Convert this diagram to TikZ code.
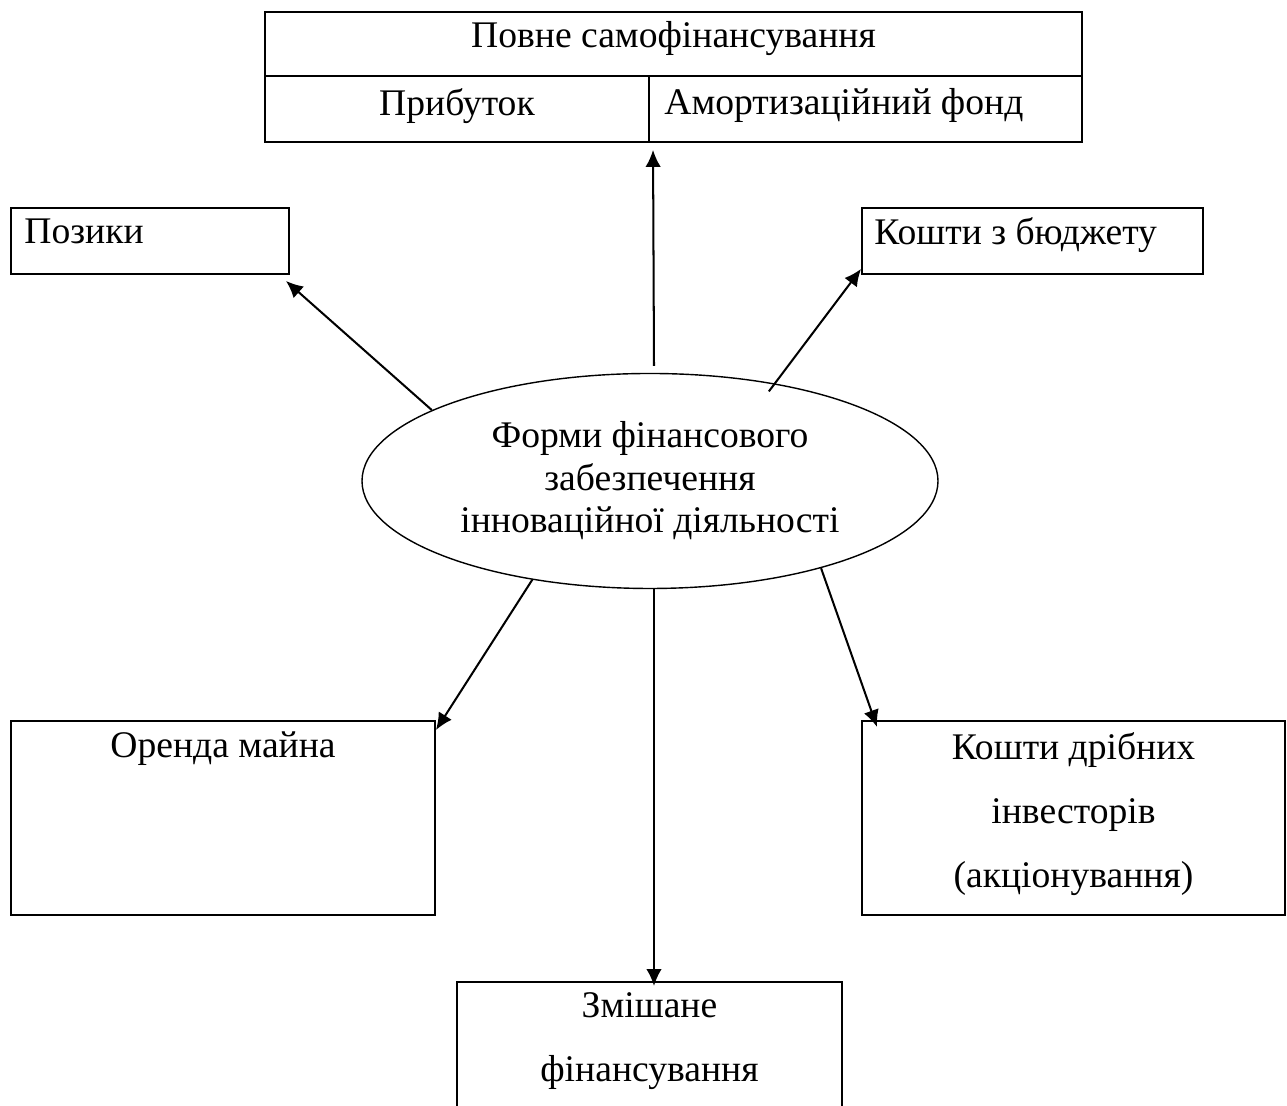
\documentclass[tikz,border=0pt]{standalone}
\usepackage{fontspec}
\setmainfont{Liberation Serif}
\usepackage{tikz}
\usetikzlibrary{shapes,arrows.meta,positioning}

\begin{document}
\begin{tikzpicture}[
    block/.style={rectangle, draw, line width=1.1pt, inner sep=0pt},
    oval/.style={ellipse, draw, line width=0.8pt, minimum width=11.52cm, minimum height=4.3cm, inner sep=0pt, align=center, font=\fontsize{21.4}{24.2}\selectfont},
    txt/.style={inner sep=0pt, align=center, font=\fontsize{21.4}{36.4}\selectfont},
    line/.style={draw, -{Latex[length=3.4mm,width=3.1mm]}, line width=1.15pt}]

    \useasboundingbox (0,0) rectangle (25.74,22.12);
    \clip (0,0) rectangle (25.74,22.12);

    % Centre
    \node [oval] (forms) at (13.0,12.50) {Форми фінансового\\забезпечення\\інноваційної діяльності};

    % Top table
    \node [block, minimum width=16.34cm, minimum height=1.28cm] (full) at (13.47,21.24) {};
    \node [block, minimum width=7.68cm, minimum height=1.32cm] (profit) at (9.14,19.94) {};
    \node [block, minimum width=8.66cm, minimum height=1.32cm] (amort) at (17.31,19.94) {};
    \node [txt, below=0.21cm of full.north] (fulltxt) {Повне самофінансування};
    \node [txt, below=0.27cm of profit.north] (profittxt) {Прибуток};
    \node [txt, below right=0.26cm and 0.32cm of amort.north west] (amorttxt) {Амортизаційний фонд};

    % Side boxes
    \node [block, minimum width=5.56cm, minimum height=1.32cm] (loans) at (3.0,17.30) {};
    \node [block, minimum width=6.82cm, minimum height=1.32cm] (budget) at (20.65,17.30) {};
    \node [txt, below right=0.23cm and 0.28cm of loans.north west] (loanstxt) {Позики};
    \node [txt, below right=0.20cm and 0.26cm of budget.north west] (budgettxt) {Кошти з бюджету};

    % Bottom boxes
    \node [block, minimum width=8.48cm, minimum height=3.88cm] (rent) at (4.46,5.76) {};
    \node [block, minimum width=8.46cm, minimum height=3.88cm] (smallinv) at (21.47,5.76) {};
    \node [block, minimum width=7.70cm, minimum height=2.78cm] (mixed) at (12.99,1.09) {};
    \node [txt, below=0.22cm of rent.north] (renttxt) {Оренда майна};
    \node [txt, below=0.25cm of smallinv.north] (smallinvtxt) {Кошти дрібних\\інвесторів\\(акціонування)};
    \node [txt, below=0.23cm of mixed.north] (mixedtxt) {Змішане\\фінансування};

    % Arrows
    \draw [line] ([xshift=0.08cm,yshift=0.14cm]forms.north) -- ([xshift=0.1cm,yshift=-0.14cm]amort.south west);
    \draw [line] (forms.162) -- ([xshift=-0.08cm,yshift=-0.12cm]loans.south east);
    \draw [line, shorten <=-0.2cm] (forms.38) -- ([yshift=0.12cm]budget.south west);
    \draw [line] (forms.220) -- ([yshift=-0.2cm]rent.north east);
    \draw [line] (forms.333) -- ([xshift=0.32cm,yshift=-0.14cm]smallinv.north west);
    \draw [line] ([xshift=0.08cm]forms.south) -- ([xshift=0.09cm,yshift=-0.1cm]mixed.north);

\end{tikzpicture}
\end{document}
